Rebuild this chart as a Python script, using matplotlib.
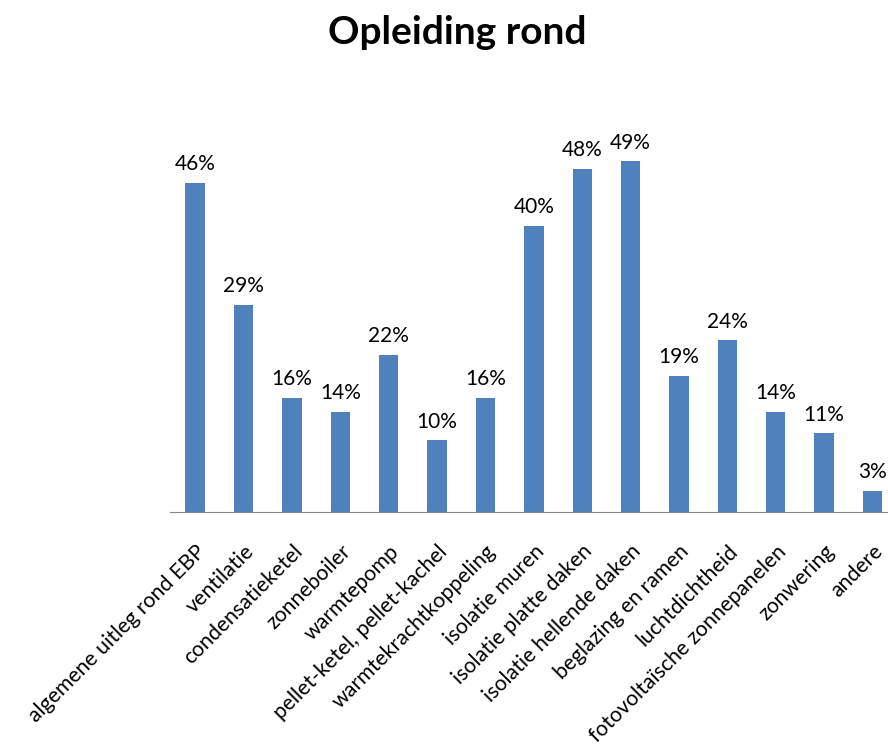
import matplotlib.pyplot as plt
import numpy as np

categories = ['algemene uitleg rond EBP', 'ventilatie', 'condensatieketel', 'zonneboiler',
              'warmtepomp', 'pellet-ketel, pellet-kachel', 'warmtekrachtkoppeling',
              'isolatie muren', 'isolatie platte daken', 'isolatie hellende daken',
              'beglazing en ramen', 'luchtdichtheid', 'fotovoltaïsche zonnepanelen',
              'zonwering', 'andere']
values = [0.46, 0.29, 0.16, 0.14, 0.22, 0.10, 0.16, 0.40, 0.48, 0.49, 0.19, 0.24, 0.14, 0.11, 0.03]

plt.rcParams['font.family'] = ['Lato', 'DejaVu Sans']

fig = plt.figure(figsize=(8.88, 7.46), dpi=100)
ax = fig.add_axes([170 / 888, 234 / 746, 718 / 888, 372 / 746])

x = np.arange(len(categories))
ax.bar(x, values, width=0.40, color='#4F81BD')

for xi, v in zip(x, values):
    ax.text(xi, v + 0.012, f'{round(v * 100)}%', ha='center', va='bottom', fontsize=15)

ax.set_xlim(-0.52, 14.32)
ax.set_ylim(0, 0.52)
ax.set_xticks(x)
ax.set_xticklabels(categories, rotation=45, ha='right', va='top',
                   rotation_mode='anchor', fontsize=15.3)
ax.tick_params(axis='x', length=0, pad=21)
ax.set_yticks([])
for s in ['top', 'right', 'left']:
    ax.spines[s].set_visible(False)
ax.spines['bottom'].set_color('#868686')

fig.text(457 / 888, 1 - 33 / 746, 'Opleiding rond', ha='center', va='center',
         fontsize=28, fontweight='bold')

fig.savefig('out.png', dpi=100)
